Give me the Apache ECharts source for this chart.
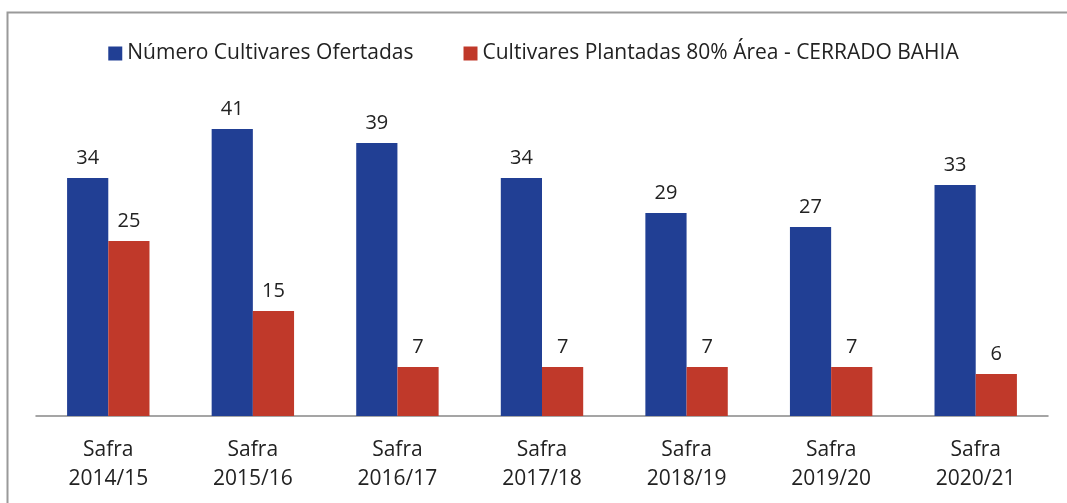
<!DOCTYPE html>
<html>
<head>
    <meta charset='utf-8'>
    <script src="https://cdn.jsdelivr.net/npm/echarts@6/dist/echarts.min.js"></script>
</head>
<body>
<style>
    html, body, #main {
        width: 100%;
        height: 100%;
        margin: 0;
        padding: 0;
        background: #fff;
    }
</style>
<div id="main"></div>
<script>
    var categories = ['Safra\n2014/15', 'Safra\n2015/16', 'Safra\n2016/17', 'Safra\n2017/18',
        'Safra\n2018/19', 'Safra\n2019/20', 'Safra\n2020/21'];
    var ofertadas = [34, 41, 39, 34, 29, 27, 33];
    var plantadas = [25, 15, 7, 7, 7, 7, 6];

    var chart = echarts.init(document.getElementById('main'));
    var font = '"Open Sans", sans-serif';

    var labelStyle = {
        show: true,
        position: 'top',
        distance: 10,
        color: '#222',
        fontSize: 20,
        fontFamily: font
    };

    chart.setOption({
        animation: false,
        graphic: [{
            type: 'rect',
            shape: {x: 7.5, y: 12.5, width: 1100, height: 600},
            style: {fill: 'none', stroke: '#9a9a9a', lineWidth: 2}
        }],
        legend: {
            top: 38,
            left: 'center',
            itemWidth: 14,
            itemHeight: 14,
            itemGap: 50,
            icon: 'rect',
            textStyle: {fontSize: 21, fontFamily: font, color: '#222'},
            data: ['Número Cultivares Ofertadas', 'Cultivares Plantadas 80% Área - CERRADO BAHIA']
        },
        grid: {left: 36, right: 19, top: 101, bottom: 87},
        xAxis: {
            type: 'category',
            data: categories,
            axisTick: {show: false},
            axisLine: {lineStyle: {color: '#888', width: 1.5}},
            axisLabel: {
                color: '#222', fontSize: 21, fontFamily: font,
                lineHeight: 29, margin: 20
            }
        },
        yAxis: {
            type: 'value',
            min: 0,
            max: 45,
            show: false,
            splitLine: {show: false}
        },
        series: [{
            name: 'Número Cultivares Ofertadas',
            type: 'bar',
            data: ofertadas,
            barWidth: '28.5%',
            barGap: '0%',
            itemStyle: {color: '#213f94'},
            label: labelStyle
        }, {
            name: 'Cultivares Plantadas 80% Área - CERRADO BAHIA',
            type: 'bar',
            data: plantadas,
            barWidth: '28.5%',
            itemStyle: {color: '#c0392a'},
            label: labelStyle
        }]
    });
</script>
</body>
</html>
